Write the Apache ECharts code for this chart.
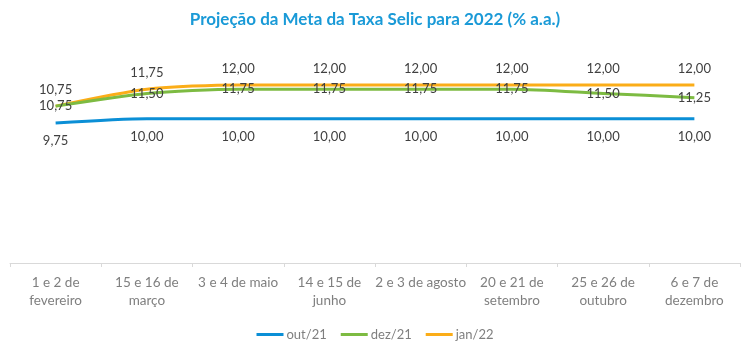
<!DOCTYPE html>
<html><head><meta charset="utf-8">
<script src="https://cdn.jsdelivr.net/npm/echarts@6/dist/echarts.min.js"></script>
<style>html,body{margin:0;padding:0;background:#fff}#c{width:750px;height:355px}</style>
</head><body><div id="c"></div>
<script>
const title = 'Projeção da Meta da Taxa Selic para 2022 (% a.a.)';
const categories = ['1 e 2 de\nfevereiro','15 e 16 de\nmarço','3 e 4 de maio','14 e 15 de\njunho','2 e 3 de agosto','20 e 21 de\nsetembro','25 e 26 de\noutubro','6 e 7 de\ndezembro'];
const seriesNames = ['out/21','dez/21','jan/22'];
const out21 = [9.75,10.00,10.00,10.00,10.00,10.00,10.00,10.00];
const dez21 = [10.75,11.50,11.75,11.75,11.75,11.75,11.50,11.25];
const jan22 = [10.75,11.75,12.00,12.00,12.00,12.00,12.00,12.00];
const colors = ['#0b8fd6','#7dbb42','#fbad18'];
const font = 'Lato, "Open Sans", sans-serif';
const fmt = p => p.value.toFixed(2).replace('.', ',');
function mk(name, data, color, pos, dist, z){
  return {name, type:'line', data, smooth:0.25, symbol:'circle', symbolSize:1,
    itemStyle:{color, opacity:0}, z,
    lineStyle:{color, width:3},
    label:{show:true, position:pos, distance:dist, formatter:fmt, color:'#404040', fontSize:13, fontFamily:font, opacity:1},
    emphasis:{disabled:true}};
}
const chart = echarts.init(document.getElementById('c'), null, {renderer:'canvas'});
chart.setOption({
  animation:false,
  color: colors,
  title:{text:title, left:'center', top:6, textStyle:{color:'#1a9ad7', fontSize:17, fontWeight:'bold', fontFamily:font}},
  grid:{left:10, right:10, top:51, bottom:92, containLabel:false},
  legend:{bottom:9, left:'center', itemWidth:27, itemHeight:3, itemGap:14, icon:'rect',
    itemStyle:{opacity:1},
    textStyle:{color:'#7f7f7f', fontSize:13, fontFamily:font, padding:[0,0,0,-2]}, data:seriesNames},
  xAxis:{type:'category', data:categories, boundaryGap:true,
    axisLine:{lineStyle:{color:'#d9d9d9'}}, axisTick:{show:true, length:4, lineStyle:{color:'#d9d9d9'}},
    axisLabel:{color:'#7f7f7f', fontSize:13.5, fontFamily:font, margin:11, lineHeight:18, interval:0}},
  yAxis:{type:'value', min:1.5, max:14, show:false, splitLine:{show:false}},
  series:[
    mk(seriesNames[0], out21, colors[0], 'bottom', 11, 3),
    mk(seriesNames[1], dez21, colors[1], 'inside', 0, 4),
    mk(seriesNames[2], jan22, colors[2], 'top', 9, 2)
  ]
});
</script></body></html>
